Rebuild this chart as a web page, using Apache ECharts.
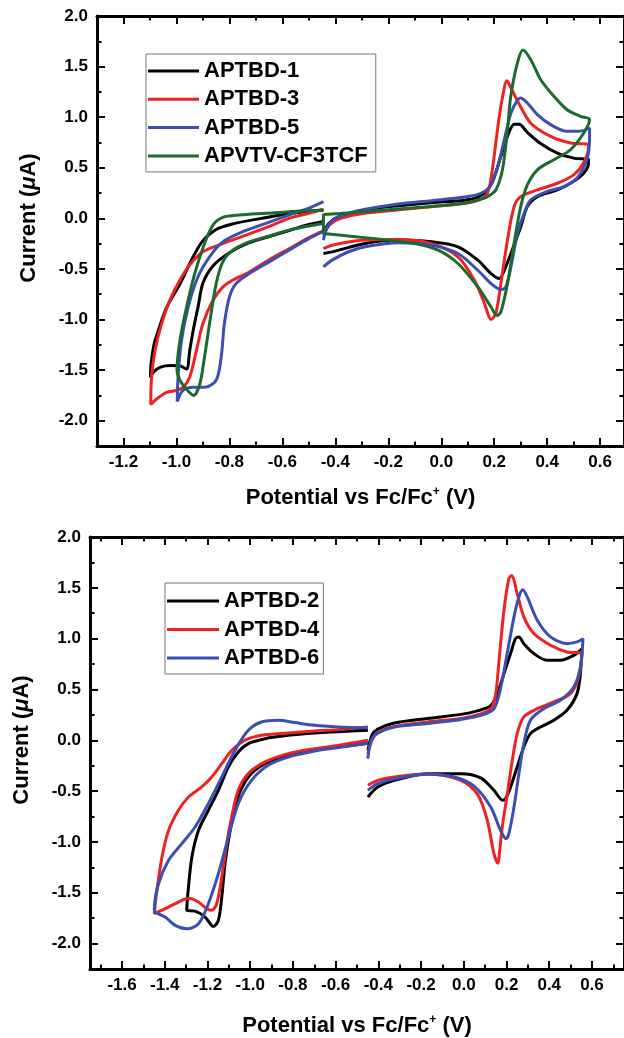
<!DOCTYPE html>
<html>
<head>
<meta charset="utf-8">
<script src="https://cdn.jsdelivr.net/npm/echarts@6/dist/echarts.min.js"></script>
<style>
html,body{margin:0;padding:0;background:#fff;}
#c{width:624px;height:1038px;}
</style>
</head>
<body>
<div id="c"></div>
<script>
// ---------- tick values ----------
const topXMajor = [-1.2,-1.0,-0.8,-0.6,-0.4,-0.2,0.0,0.2,0.4,0.6];
const topXMinor = [-1.1,-0.9,-0.7,-0.5,-0.3,-0.1,0.1,0.3,0.5];
const botXMajor = [-1.6,-1.4,-1.2,-1.0,-0.8,-0.6,-0.4,-0.2,0.0,0.2,0.4,0.6];
const botXMinor = [-1.7,-1.5,-1.3,-1.1,-0.9,-0.7,-0.5,-0.3,-0.1,0.1,0.3,0.5,0.7];
const yMajor = [-2.0,-1.5,-1.0,-0.5,0.0,0.5,1.0,1.5,2.0];
const yMinor = [-1.75,-1.25,-0.75,-0.25,0.25,0.75,1.25,1.75];

// ---------- top panel data (potential V, current uA) ----------
const APTBD1_red = [[-0.445,-0.03],[-0.5,-0.06],[-0.575,-0.12],[-0.637,-0.17],[-0.725,-0.24],[-0.8,-0.34],[-0.862,-0.47],[-0.9,-0.64],[-0.918,-0.87],[-0.937,-1.11],[-0.95,-1.31],[-0.962,-1.49],[-0.985,-1.46],[-1.02,-1.455],[-1.06,-1.47],[-1.087,-1.52],[-1.098,-1.57],[-1.096,-1.44],[-1.085,-1.25],[-1.07,-1.12],[-1.037,-0.88],[-0.987,-0.65],[-0.937,-0.38],[-0.9,-0.22],[-0.85,-0.11],[-0.787,-0.055],[-0.7,-0.01],[-0.6,0.035],[-0.5,0.07],[-0.445,0.08]];
const APTBD1_ox = [[-0.445,-0.15],[-0.425,-0.05],[-0.387,0.017],[-0.287,0.083],[-0.162,0.125],[-0.037,0.155],[0.088,0.18],[0.138,0.21],[0.175,0.28],[0.2,0.41],[0.225,0.61],[0.25,0.81],[0.275,0.93],[0.294,0.93],[0.325,0.85],[0.375,0.74],[0.438,0.645],[0.5,0.595],[0.556,0.58],[0.556,0.55],[0.538,0.446],[0.488,0.347],[0.438,0.281],[0.363,0.215],[0.325,0.116],[0.3,-0.083],[0.263,-0.347],[0.238,-0.513],[0.219,-0.595],[0.188,-0.546],[0.138,-0.413],[0.063,-0.281],[-0.037,-0.231],[-0.162,-0.215],[-0.287,-0.248],[-0.412,-0.331],[-0.445,-0.347]];

const APTBD3_red = [[-0.445,-0.12],[-0.5,-0.19],[-0.575,-0.3],[-0.65,-0.41],[-0.725,-0.53],[-0.787,-0.61],[-0.825,-0.68],[-0.862,-0.81],[-0.9,-1.04],[-0.925,-1.31],[-0.95,-1.57],[-0.975,-1.67],[-1.0,-1.7],[-1.037,-1.72],[-1.075,-1.785],[-1.097,-1.84],[-1.094,-1.57],[-1.081,-1.31],[-1.056,-1.04],[-1.025,-0.81],[-0.987,-0.61],[-0.95,-0.46],[-0.9,-0.33],[-0.825,-0.25],[-0.737,-0.165],[-0.637,-0.066],[-0.575,0.0],[-0.5,0.05],[-0.445,0.09]];
const APTBD3_ox = [[-0.445,-0.17],[-0.42,-0.06],[-0.38,0.0],[-0.29,0.05],[-0.16,0.085],[-0.04,0.115],[0.09,0.15],[0.14,0.18],[0.17,0.23],[0.185,0.35],[0.2,0.62],[0.215,0.93],[0.23,1.18],[0.248,1.36],[0.265,1.28],[0.288,1.16],[0.338,0.94],[0.413,0.81],[0.488,0.745],[0.556,0.73],[0.556,0.71],[0.538,0.55],[0.5,0.43],[0.438,0.347],[0.363,0.281],[0.3,0.215],[0.275,0.116],[0.25,-0.215],[0.225,-0.645],[0.206,-0.94],[0.188,-1.0],[0.163,-0.84],[0.125,-0.61],[0.063,-0.38],[-0.037,-0.248],[-0.162,-0.21],[-0.287,-0.215],[-0.412,-0.265],[-0.445,-0.3]];

const APTBD5_red = [[-0.445,-0.13],[-0.5,-0.2],[-0.575,-0.314],[-0.65,-0.43],[-0.725,-0.546],[-0.775,-0.645],[-0.8,-0.777],[-0.819,-1.04],[-0.831,-1.37],[-0.85,-1.6],[-0.894,-1.67],[-0.937,-1.67],[-0.975,-1.7],[-0.997,-1.81],[-0.994,-1.57],[-0.981,-1.21],[-0.956,-0.88],[-0.919,-0.58],[-0.875,-0.38],[-0.825,-0.232],[-0.75,-0.132],[-0.662,-0.05],[-0.575,0.033],[-0.5,0.1],[-0.445,0.165]];
const APTBD5_ox = [[-0.445,-0.215],[-0.43,-0.083],[-0.4,0.0],[-0.35,0.05],[-0.287,0.09],[-0.162,0.142],[-0.037,0.175],[0.088,0.21],[0.15,0.248],[0.188,0.33],[0.213,0.51],[0.238,0.777],[0.263,1.04],[0.288,1.17],[0.3,1.19],[0.325,1.14],[0.363,1.025],[0.413,0.926],[0.475,0.86],[0.519,0.86],[0.56,0.893],[0.56,0.8],[0.55,0.58],[0.513,0.4],[0.463,0.314],[0.4,0.265],[0.338,0.182],[0.313,0.05],[0.288,-0.149],[0.263,-0.48],[0.244,-0.678],[0.225,-0.704],[0.188,-0.645],[0.138,-0.513],[0.063,-0.347],[-0.037,-0.265],[-0.162,-0.241],[-0.287,-0.281],[-0.35,-0.33],[-0.412,-0.413],[-0.445,-0.48]];

const APVTV_red = [[-0.445,-0.05],[-0.5,-0.075],[-0.575,-0.116],[-0.637,-0.165],[-0.725,-0.232],[-0.787,-0.314],[-0.825,-0.43],[-0.85,-0.645],[-0.875,-1.04],[-0.894,-1.37],[-0.912,-1.64],[-0.935,-1.75],[-0.962,-1.69],[-0.987,-1.6],[-0.998,-1.5],[-0.987,-1.21],[-0.962,-0.88],[-0.931,-0.546],[-0.894,-0.248],[-0.862,-0.066],[-0.825,0.01],[-0.762,0.033],[-0.662,0.05],[-0.575,0.066],[-0.5,0.075],[-0.445,0.083]];
const APVTV_ox = [[-0.445,-0.15],[-0.445,0.03],[-0.4,0.045],[-0.3,0.065],[-0.2,0.085],[-0.1,0.105],[0.0,0.125],[0.1,0.155],[0.15,0.19],[0.175,0.215],[0.206,0.28],[0.231,0.48],[0.25,0.876],[0.2625,1.207],[0.2875,1.537],[0.309,1.663],[0.3375,1.57],[0.375,1.372],[0.425,1.207],[0.475,1.074],[0.525,1.009],[0.56,0.976],[0.538,0.843],[0.488,0.678],[0.425,0.579],[0.363,0.48],[0.325,0.33],[0.3,0.116],[0.275,-0.248],[0.25,-0.645],[0.225,-0.926],[0.21,-0.96],[0.188,-0.876],[0.138,-0.678],[0.063,-0.446],[-0.012,-0.314],[-0.1,-0.248],[-0.225,-0.208],[-0.35,-0.175],[-0.425,-0.155],[-0.445,-0.15]];

// ---------- bottom panel data ----------
const APTBD2_red = [[-0.449,-0.03],[-0.589,-0.066],[-0.698,-0.092],[-0.822,-0.148],[-0.931,-0.23],[-1.009,-0.361],[-1.063,-0.591],[-1.094,-0.886],[-1.118,-1.214],[-1.133,-1.542],[-1.149,-1.772],[-1.172,-1.831],[-1.211,-1.739],[-1.258,-1.68],[-1.297,-1.673],[-1.289,-1.444],[-1.273,-1.148],[-1.242,-0.886],[-1.196,-0.689],[-1.149,-0.492],[-1.102,-0.262],[-1.056,-0.115],[-1.009,-0.033],[-0.931,0.016],[-0.822,0.049],[-0.698,0.072],[-0.589,0.085],[-0.449,0.1]];
const APTBD2_ox = [[-0.449,-0.1],[-0.43,0.05],[-0.403,0.11],[-0.325,0.17],[-0.17,0.215],[-0.014,0.255],[0.064,0.29],[0.126,0.34],[0.157,0.459],[0.188,0.656],[0.219,0.853],[0.242,1.0],[0.258,1.017],[0.281,0.951],[0.328,0.853],[0.39,0.787],[0.452,0.787],[0.515,0.836],[0.553,0.9],[0.546,0.656],[0.53,0.459],[0.483,0.295],[0.421,0.197],[0.359,0.131],[0.312,0.066],[0.281,-0.066],[0.25,-0.263],[0.219,-0.46],[0.196,-0.574],[0.182,-0.59],[0.141,-0.492],[0.079,-0.37],[-0.014,-0.328],[-0.17,-0.33],[-0.325,-0.394],[-0.403,-0.46],[-0.449,-0.558]];

const APTBD4_red = [[-0.449,0.0],[-0.589,-0.05],[-0.698,-0.082],[-0.822,-0.131],[-0.931,-0.213],[-1.009,-0.328],[-1.056,-0.492],[-1.087,-0.755],[-1.11,-1.017],[-1.133,-1.345],[-1.157,-1.608],[-1.18,-1.673],[-1.203,-1.657],[-1.242,-1.591],[-1.289,-1.555],[-1.336,-1.591],[-1.398,-1.657],[-1.449,-1.706],[-1.437,-1.476],[-1.413,-1.148],[-1.382,-0.886],[-1.336,-0.689],[-1.289,-0.558],[-1.227,-0.459],[-1.18,-0.361],[-1.133,-0.23],[-1.087,-0.1],[-1.025,0.0],[-0.947,0.049],[-0.822,0.072],[-0.698,0.092],[-0.589,0.105],[-0.449,0.13]];
const APTBD4_ox = [[-0.449,-0.13],[-0.43,0.0],[-0.403,0.08],[-0.325,0.135],[-0.17,0.18],[-0.014,0.215],[0.079,0.26],[0.126,0.31],[0.149,0.45],[0.165,0.787],[0.188,1.279],[0.211,1.591],[0.224,1.62],[0.25,1.443],[0.281,1.214],[0.328,1.05],[0.406,0.935],[0.483,0.869],[0.553,0.853],[0.538,0.623],[0.499,0.459],[0.421,0.377],[0.344,0.311],[0.281,0.23],[0.25,0.066],[0.227,-0.197],[0.204,-0.525],[0.18,-0.853],[0.165,-1.148],[0.16,-1.21],[0.141,-1.116],[0.11,-0.787],[0.064,-0.53],[-0.014,-0.394],[-0.17,-0.328],[-0.325,-0.361],[-0.403,-0.394],[-0.449,-0.443]];

const APTBD6_red = [[-0.449,-0.03],[-0.589,-0.072],[-0.698,-0.105],[-0.822,-0.164],[-0.916,-0.246],[-0.994,-0.394],[-1.056,-0.623],[-1.102,-0.952],[-1.149,-1.312],[-1.196,-1.608],[-1.242,-1.805],[-1.297,-1.854],[-1.351,-1.821],[-1.398,-1.739],[-1.449,-1.673],[-1.429,-1.411],[-1.382,-1.181],[-1.32,-1.017],[-1.258,-0.853],[-1.196,-0.623],[-1.133,-0.361],[-1.071,-0.099],[-1.009,0.098],[-0.947,0.18],[-0.869,0.197],[-0.791,0.174],[-0.698,0.147],[-0.589,0.131],[-0.449,0.12]];
const APTBD6_ox = [[-0.449,-0.18],[-0.434,0.0],[-0.403,0.07],[-0.325,0.13],[-0.17,0.165],[-0.014,0.205],[0.079,0.245],[0.141,0.31],[0.172,0.51],[0.203,0.853],[0.235,1.214],[0.258,1.41],[0.276,1.48],[0.297,1.41],[0.344,1.181],[0.406,1.017],[0.483,0.951],[0.53,0.968],[0.558,1.0],[0.546,0.721],[0.515,0.525],[0.452,0.394],[0.375,0.311],[0.312,0.197],[0.281,-0.033],[0.258,-0.328],[0.235,-0.656],[0.211,-0.919],[0.198,-0.968],[0.172,-0.886],[0.126,-0.656],[0.048,-0.45],[-0.045,-0.361],[-0.17,-0.335],[-0.325,-0.378],[-0.403,-0.427],[-0.449,-0.492]];

const topNames = ['APTBD-1','APTBD-3','APTBD-5','APVTV-CF3TCF'];
const botNames = ['APTBD-2','APTBD-4','APTBD-6'];

// ---------- styling ----------
const FONT = '"Liberation Sans", Arial, sans-serif';
const BLACK = '#000000', RED = '#ee2222', BLUE = '#3a4fb3', GREEN = '#1b6a2e';
const fmt = v => Number(v).toFixed(1);

// frame axes: line + labels (no ticks)
function frameX(grid, pos, min, max, labels, gap){
  const ax = {
    type:'value', gridIndex:grid, position:pos, min:min, max:max,
    axisLine:{show:true, onZero:false, lineStyle:{color:'#000', width:3}},
    axisTick:{show:false},
    axisLabel:{show:!!labels, customValues:labels || undefined, formatter:fmt, fontFamily:FONT, fontWeight:'bold', fontSize:17, color:'#000', margin:8},
    splitLine:{show:false}
  };
  if (labels){
    ax.name = '{b|Potential vs Fc/Fc}{s|+}{b| (V)}';
    ax.nameLocation = 'middle';
    ax.nameGap = gap;
    ax.nameTextStyle = {rich:{
      b:{fontFamily:FONT, fontWeight:'bold', fontSize:22, color:'#000', lineHeight:24},
      s:{fontFamily:FONT, fontWeight:'bold', fontSize:12, color:'#000', lineHeight:12, verticalAlign:'top'}
    }};
  }
  return ax;
}
function frameY(grid, pos, labels){
  const ax = {
    type:'value', gridIndex:grid, position:pos, min:-2.25, max:2.0,
    axisLine:{show:true, onZero:false, lineStyle:{color:'#000', width:3}},
    axisTick:{show:false},
    axisLabel:{show:!!labels, customValues:labels || undefined, formatter:fmt, fontFamily:FONT, fontWeight:'bold', fontSize:17, color:'#000', margin:9},
    splitLine:{show:false}
  };
  if (labels){
    ax.name = '{b|Current (}{i|μ}{b|A)}';
    ax.nameLocation = 'middle';
    ax.nameGap = 57;
    ax.nameTextStyle = {padding:[0,0,0,26], rich:{
      b:{fontFamily:FONT, fontWeight:'bold', fontSize:22, color:'#000'},
      i:{fontFamily:FONT, fontWeight:'bold', fontStyle:'italic', fontSize:22, color:'#000'}
    }};
  }
  return ax;
}
// tick-only axes
function tickX(grid, pos, min, max, vals, len){
  return {type:'value', gridIndex:grid, position:pos, min:min, max:max,
    axisLine:{show:false, onZero:false}, axisLabel:{show:false}, splitLine:{show:false},
    axisTick:{show:true, inside:true, length:len, lineStyle:{color:'#000', width:2}, customValues:vals}};
}
function tickY(grid, pos, vals, len){
  return {type:'value', gridIndex:grid, position:pos, min:-2.25, max:2.0,
    axisLine:{show:false, onZero:false}, axisLabel:{show:false}, splitLine:{show:false},
    axisTick:{show:true, inside:true, length:len, lineStyle:{color:'#000', width:2}, customValues:vals}};
}

const gTop = {left:97, top:16, width:531, height:430};
const gBot = {left:90, top:537, width:536, height:432};

function line(name, data, color, axis, z){
  return {type:'line', name:name, data:data, xAxisIndex:axis, yAxisIndex:axis,
    symbol:'none', showSymbol:false, smooth:0.3, z:z,
    lineStyle:{color:color, width:3}, itemStyle:{color:color}, emphasis:{disabled:true}};
}

const option = {
  animation:false,
  backgroundColor:'#ffffff',
  grid:[
    Object.assign({}, gTop), Object.assign({}, gTop), Object.assign({}, gTop),
    Object.assign({}, gBot), Object.assign({}, gBot), Object.assign({}, gBot)
  ],
  xAxis:[
    frameX(0,'bottom',-1.3,0.69,topXMajor,40),
    frameX(0,'top',-1.3,0.69,null,0),
    tickX(1,'bottom',-1.3,0.69,topXMinor,4.5),
    tickX(1,'top',-1.3,0.69,topXMinor,4.5),
    tickX(2,'bottom',-1.3,0.69,topXMajor,8),
    tickX(2,'top',-1.3,0.69,topXMajor,8),
    frameX(3,'bottom',-1.75,0.75,botXMajor,45),
    frameX(3,'top',-1.75,0.75,null,0),
    tickX(4,'bottom',-1.75,0.75,botXMinor,4.5),
    tickX(4,'top',-1.75,0.75,botXMinor,4.5),
    tickX(5,'bottom',-1.75,0.75,botXMajor,8),
    tickX(5,'top',-1.75,0.75,botXMajor,8)
  ],
  yAxis:[
    frameY(0,'left',yMajor), frameY(0,'right',null),
    tickY(1,'left',yMinor,4.5), tickY(1,'right',yMinor,4.5),
    tickY(2,'left',yMajor,8), tickY(2,'right',yMajor,8),
    frameY(3,'left',yMajor), frameY(3,'right',null),
    tickY(4,'left',yMinor,4.5), tickY(4,'right',yMinor,4.5),
    tickY(5,'left',yMajor,8), tickY(5,'right',yMajor,8)
  ],
  legend:[
    {data:topNames, orient:'vertical', left:146, top:54, icon:'rect', itemWidth:51, itemHeight:3, itemGap:6.3,
     padding:[6,8,5,2], borderColor:'#777', borderWidth:1, selectedMode:false,
     textStyle:{fontFamily:FONT, fontWeight:'bold', fontSize:22, color:'#000', lineHeight:20}},
    {data:botNames, orient:'vertical', left:165, top:583, icon:'rect', itemWidth:52, itemHeight:3, itemGap:6.5,
     padding:[7,4,5,2], borderColor:'#777', borderWidth:1, selectedMode:false,
     textStyle:{fontFamily:FONT, fontWeight:'bold', fontSize:22, color:'#000', lineHeight:20}}
  ],
  series:[
    line('APTBD-1', APTBD1_red, BLACK, 0, 2), line('APTBD-1', APTBD1_ox, BLACK, 0, 2),
    line('APTBD-3', APTBD3_red, RED, 0, 3), line('APTBD-3', APTBD3_ox, RED, 0, 3),
    line('APTBD-5', APTBD5_red, BLUE, 0, 4), line('APTBD-5', APTBD5_ox, BLUE, 0, 4),
    line('APVTV-CF3TCF', APVTV_red, GREEN, 0, 5), line('APVTV-CF3TCF', APVTV_ox, GREEN, 0, 5),
    line('APTBD-2', APTBD2_red, BLACK, 6, 2), line('APTBD-2', APTBD2_ox, BLACK, 6, 2),
    line('APTBD-4', APTBD4_red, RED, 6, 3), line('APTBD-4', APTBD4_ox, RED, 6, 3),
    line('APTBD-6', APTBD6_red, BLUE, 6, 4), line('APTBD-6', APTBD6_ox, BLUE, 6, 4)
  ]
};

const chart = echarts.init(document.getElementById('c'), null, {renderer:'canvas'});
chart.setOption(option);
</script>
</body>
</html>
